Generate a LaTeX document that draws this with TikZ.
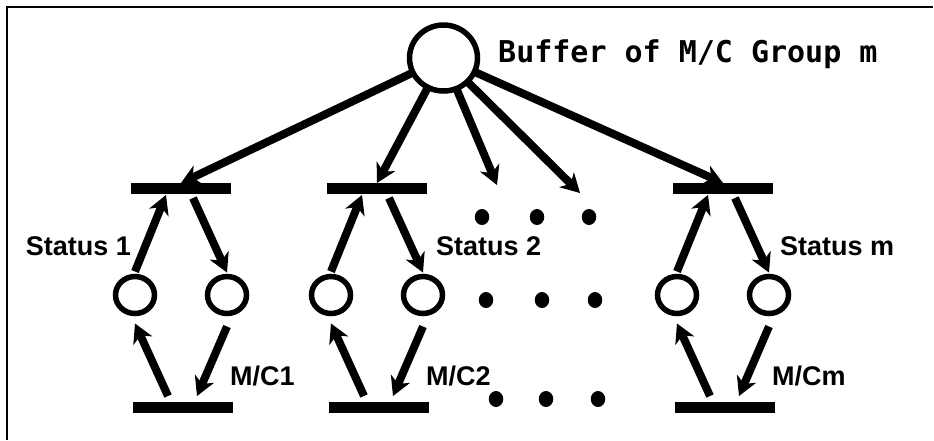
\documentclass[tikz,border=0pt]{standalone}
\usepackage{fontspec}
\setmainfont{Liberation Sans}
\newfontfamily\monofnt{DejaVu Sans Mono}
\usetikzlibrary{arrows.meta,shapes.geometric}
\begin{document}
\begin{tikzpicture}[x=1pt,y=-1pt,
 bar/.style={fill=black, rectangle, minimum width=100pt, minimum height=11pt, inner sep=0pt, outer sep=0pt},
 place/.style={draw, ellipse, line width=5.5pt, minimum width=39pt, minimum height=37pt, inner sep=0pt, outer sep=0pt},
 dot/.style={fill=black, ellipse, minimum width=14.5pt, minimum height=16pt, inner sep=0pt},
 arr/.style={line width=8pt, -{Stealth[length=19pt,width=21pt,inset=6pt,line width=1pt]}},
 lbl/.style={font=\fontsize{27}{30}\selectfont\bfseries, inner sep=0pt},
 frame/.style={line width=1.5pt},
]
\useasboundingbox (0,0) rectangle (934,440);
\draw[frame] (7,440) -- (7,7) -- (933,7);

% buffer place
\node[place, minimum width=68pt, minimum height=66pt, line width=5.5pt] (B) at (443.5,58) {};
\node[font=\monofnt\fontsize{30}{32}\selectfont\bfseries, anchor=base west, inner sep=0pt] (T) at (498,62) {Buffer of M/C Group m};

% groups
\foreach \g/\X in {1/181, 2/377, m/723} {
  \node[bar] (tb\g) at (\X,188.5) {};
  \node[bar] (bb\g) at (\X+2,407.5) {};
  \node[place] (cl\g) at (\X-46,295) {};
  \node[place] (cr\g) at (\X+46,295) {};
  \draw[arr] ([yshift=5pt]cl\g.north) -- ([xshift=-15pt,yshift=-1pt]tb\g.south);
  \draw[arr] ([xshift=12pt,yshift=-4pt]tb\g.south) -- ([yshift=4pt]cr\g.north);
  \draw[arr] ([xshift=-15pt,yshift=6pt]bb\g.north) -- ([yshift=-10pt]cl\g.south);
  \draw[arr] ([yshift=-13pt]cr\g.south) -- ([xshift=14pt,yshift=6pt]bb\g.north);
  \node[lbl, anchor=base west] (mc\g) at (\X+49,385) {M/C\g};
}

\node[lbl, anchor=base east] (s1) at (131,255) {Status 1};
\node[lbl, anchor=base west] (s2) at (436,255) {Status 2};
\node[lbl, anchor=base west] (sm) at (780,255) {Status m};

% arrows from buffer
\coordinate (f1) at (497,185);
\coordinate (f2) at (580,193);
\draw[arr] (B) -- (tb1.north);
\draw[arr] (B) -- (tb2.north);
\draw[arr] (B) -- (f1);
\draw[arr] (B) -- (f2);
\draw[arr] (B) -- (tbm.north);

% ellipsis dots
\node[dot] (d11) at (482,217) {};
\node[dot] (d12) at (537,217) {};
\node[dot] (d13) at (589,217) {};
\node[dot] (d21) at (486,300) {};
\node[dot] (d22) at (542,300) {};
\node[dot] (d23) at (595,300) {};
\node[dot] (d31) at (496,399) {};
\node[dot] (d32) at (546,399) {};
\node[dot] (d33) at (598,399) {};
\end{tikzpicture}
\end{document}
